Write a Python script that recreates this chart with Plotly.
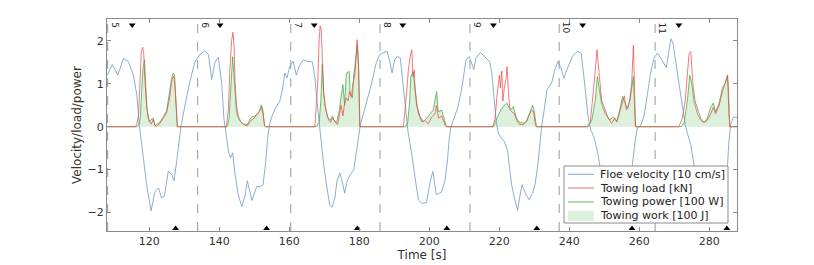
import plotly.graph_objects as go

# ---------------- data ----------------
vel_t = [108.0, 109.4, 111.0, 112.6, 114.0, 115.4, 116.4, 117.15, 118.3, 119.2, 120.5, 121.6, 122.6, 123.5,
         124.3, 125.4, 126.4, 127.05, 127.8, 128.5, 129.05, 130.2, 131.6, 133.05, 134.5, 135.9, 136.9, 137.8,
         138.8, 139.7, 140.7, 141.3, 141.8, 142.6, 143.2, 143.8, 144.5, 145.4, 146.4, 147.3, 148.0, 149.3,
         150.7, 151.6, 152.5, 153.25, 153.8, 154.4, 155.2, 156.1, 157.25, 158.0, 158.7, 159.35, 160.1, 161.1,
         162.0, 162.8, 163.9, 165.3, 166.6, 167.25, 167.9, 168.5, 169.2, 169.9, 170.8, 171.5, 172.2, 173.0,
         173.6, 174.4, 175.2, 175.8, 176.5, 177.4, 178.4, 179.2, 179.8, 180.3, 181.1, 182.2, 183.4, 184.7,
         185.8, 187.0, 187.9, 188.7, 189.35, 190.1, 190.9, 191.7, 192.5, 193.3, 193.9, 194.9, 195.4, 196.2,
         196.9, 197.8, 199.2, 200.1, 201.0, 202.0, 203.4, 204.5, 205.2, 205.7, 206.2, 207.2, 208.1, 209.1,
         209.8, 210.5, 211.4, 212.1, 212.7, 213.3, 214.6, 215.7, 217.2, 217.8, 218.6, 219.1, 219.7, 220.5,
         221.4, 222.4, 222.9, 223.5, 224.3, 225.2, 225.9, 226.5, 227.4, 228.5, 229.5, 230.2, 231.0, 231.6,
         232.1, 232.9, 233.6, 234.3, 235.1, 235.7, 236.7, 237.6, 238.4, 239.5, 241.0, 242.4, 243.4, 244.2,
         244.9, 245.4, 246.1, 247.1, 248.0, 248.7, 250.0, 251.5, 253.0, 254.5, 256.0, 257.2, 258.0, 258.8,
         259.4, 260.4, 261.3, 262.3, 263.2, 264.2, 265.2, 266.1, 267.1, 267.7, 268.3, 269.0, 269.6, 270.4,
         271.3, 272.3, 273.1, 273.7, 274.7, 275.6, 277.0, 278.5, 280.0, 281.5, 283.0, 284.5, 285.2, 285.6,
         286.1, 286.8, 288.0]
vel_v = [1.20, 1.45, 1.20, 1.59, 1.52, 1.21, 0.75, 0.01, -0.73, -1.35, -1.96, -1.51, -1.43, -1.66,
         -1.62, -1.04, -1.12, -1.26, -0.81, -0.26, 0.01, 0.51, 1.06, 1.52, 1.69, 1.77, 1.68, 1.10,
         1.52, 1.62, 0.98, 0.20, -0.11, -0.57, -0.73, -0.61, -1.12, -1.58, -1.86, -1.62, -1.26, -1.72,
         -1.39, -1.40, -1.35, -0.81, -0.26, 0.09, 0.28, 0.44, 0.59, 0.86, 1.25, 1.14, 1.41, 1.52,
         1.20, 1.41, 1.56, 1.52, 1.51, 1.17, 0.59, 0.05, -0.42, -0.96, -1.51, -1.82, -1.88, -1.66,
         -1.27, -1.08, -1.31, -1.55, -1.27, -1.12, -1.00, -0.57, -0.19, 0.05, 0.28, 0.59, 0.98, 1.45,
         1.68, 1.73, 1.76, 1.52, 1.25, 1.56, 1.64, 1.60, 0.98, 0.28, -0.11, -0.60, -0.85, -1.35,
         -1.71, -1.78, -1.77, -1.33, -1.04, -1.58, -1.53, -1.25, -0.75, -0.26, 0.01, 0.24, 0.44, 0.82,
         1.21, 1.56, 1.64, 1.45, 1.33, 1.60, 1.73, 1.64, 1.52, 1.29, 0.51, 0.13, -0.15, -0.26,
         -0.34, -0.57, -0.96, -1.35, -1.66, -1.95, -1.60, -1.35, -1.55, -1.70, -1.55, -1.35, -0.88, -0.30,
         0.01, 0.44, 0.86, 0.94, 1.06, 1.29, 1.52, 1.37, 1.13, 1.37, 1.66, 1.76, 1.70, 1.13,
         0.59, 0.20, -0.07, -0.26, -0.57, -0.88, -1.50, -1.85, -1.70, -1.60, -1.45, -1.30, -0.88, -0.34,
         -0.03, 0.03, 0.24, 0.75, 1.25, 1.60, 1.72, 1.60, 1.45, 1.38, 1.68, 2.05, 1.95, 1.52,
         0.98, 0.48, 0.05, -0.15, -0.42, -0.88, -1.50, -1.90, -1.80, -1.70, -1.60, -1.30, -0.88, -0.34,
         0.05, 0.22, 0.22]

load_t = [108.0, 116.0, 116.4, 116.9, 117.3, 117.7, 118.1, 118.4, 118.7, 119.2, 119.7, 120.5, 121.1, 121.6,
          122.1, 123.0, 124.0, 124.9, 125.8, 126.3, 126.8, 127.1, 127.4, 127.7, 128.0,
          142.0, 142.6, 143.0, 143.5, 143.9, 144.2, 144.5, 144.9, 145.4, 146.1, 147.0, 148.0, 148.8, 149.5,
          150.2, 150.8, 151.4, 152.1, 152.5, 152.9, 153.3,
          167.3, 167.7, 168.1, 168.5, 168.8, 169.1, 169.5, 169.8, 170.2, 170.7, 171.3, 171.8, 172.3, 172.7,
          173.2, 173.8, 174.3, 174.8, 175.3, 175.8, 176.3, 176.8, 177.2, 177.7, 178.2, 178.7, 179.0, 179.35,
          179.7, 180.0, 180.2,
          192.6, 193.1, 193.5, 194.0, 194.5, 195.0, 195.3, 195.7, 195.9, 196.4, 196.9, 197.8, 198.7, 199.7,
          200.7, 201.6, 202.1, 202.6, 203.5, 204.5, 205.0,
          218.1, 218.8, 219.3, 219.7, 220.0, 220.3, 220.7, 221.0, 221.4, 221.9, 222.2, 222.6, 223.0, 223.5,
          224.3, 225.0, 225.8, 226.8, 227.7, 228.6, 229.3, 229.8, 230.3, 230.6,
          245.0, 246.0, 246.9, 247.4, 247.9, 248.3, 248.6, 249.2, 250.2, 251.1, 252.1, 253.0, 253.6, 254.4,
          255.2, 255.7, 256.3, 256.8, 257.3, 257.8, 258.3, 258.6, 258.9,
          271.3, 272.3, 273.1, 273.7, 274.2, 274.7, 275.0, 275.3, 275.9, 276.6, 277.5, 278.5, 279.4, 280.4,
          281.1, 281.8, 282.8, 283.7, 284.5, 285.2, 285.5, 285.8, 288.0]
load_v = [0, 0, 0.05, 0.28, 0.98, 1.76, 1.85, 1.70, 1.13, 0.51, 0.20, 0.06, 0.17, 0.03,
          0.0, 0.08, 0.20, 0.32, 0.67, 1.02, 1.17, 1.16, 0.82, 0.20, 0.0,
          0.0, 0.40, 1.30, 2.00, 2.20, 1.90, 1.00, 0.50, 0.25, 0.12, 0.05, 0.02, 0.12, 0.18,
          0.22, 0.30, 0.35, 0.45, 0.30, 0.02, 0.0,
          0.0, 0.44, 1.00, 2.00, 2.35, 2.28, 1.50, 0.80, 0.50, 0.30, 0.15, 0.10, 0.20, 0.15,
          0.10, 0.05, 0.25, 0.50, 0.25, 0.55, 0.67, 0.60, 0.82, 0.70, 1.02, 1.20, 1.52, 2.03,
          1.60, 0.20, 0.0,
          0.0, 0.39, 0.78, 1.32, 1.63, 1.79, 1.17, 1.32, 0.93, 0.55, 0.30, 0.12, 0.14, 0.07,
          0.23, 0.30, 0.50, 0.20, 0.25, 0.04, 0.0,
          0.0, 0.20, 0.70, 1.00, 1.20, 0.90, 1.30, 0.60, 0.90, 1.10, 1.40, 0.80, 0.40, 0.35,
          0.30, 0.15, 0.05, 0.05, 0.12, 0.30, 0.38, 0.35, 0.05, 0.0,
          0.0, 0.10, 0.78, 1.30, 1.79, 1.50, 1.17, 0.62, 0.39, 0.20, 0.08, 0.20, 0.12, 0.35,
          0.59, 0.72, 0.40, 0.45, 0.65, 1.00, 1.90, 1.20, 0.0,
          0.0, 0.20, 0.60, 1.20, 1.70, 1.75, 1.30, 1.00, 0.60, 0.40, 0.20, 0.10, 0.15, 0.30,
          0.45, 0.30, 0.50, 0.80, 1.00, 1.20, 0.80, 0.0, 0.0]

power_t = [108.0, 116.4, 117.0, 117.4, 117.8, 118.2, 118.6, 118.9, 119.3, 119.9, 121.1, 121.6, 123.0, 124.0,
           124.9, 125.8, 126.3, 126.8, 127.2, 127.5, 127.8, 128.0,
           142.2, 142.8, 143.2, 143.5, 143.8, 144.1, 144.5, 144.9, 145.4, 146.2, 147.0, 148.0, 148.8, 149.3,
           150.2, 150.8, 151.3, 152.0, 152.4, 152.9, 153.2,
           167.6, 168.5, 169.0, 169.4, 169.8, 170.3, 171.0, 171.7, 172.3, 172.8, 173.5, 174.2, 174.6, 175.3,
           175.8, 176.3, 177.1, 177.4, 178.0, 178.4, 179.0, 179.4, 179.8, 180.1,
           193.2, 193.8, 194.3, 194.7, 195.4, 195.9, 196.4, 197.4, 198.3, 199.2, 200.2, 201.1, 202.1, 202.5,
           203.5, 204.4, 204.9,
           218.3, 219.3, 220.2, 221.1, 222.1, 222.8, 223.4, 224.0, 224.7, 225.4, 226.8, 227.8, 228.7, 229.5,
           229.9, 230.6,
           245.3, 246.4, 247.4, 248.0, 248.6, 249.2, 250.2, 251.6, 252.6, 253.5, 254.4, 255.2, 255.9, 256.5,
           257.3, 257.8, 258.3, 258.9,
           272.0, 272.8, 273.7, 274.4, 275.0, 275.6, 276.6, 277.5, 278.5, 279.4, 280.4, 281.1, 281.8, 282.8,
           283.7, 284.5, 285.2, 285.6, 285.9, 288.0]
power_v = [0, 0, 0.05, 0.20, 0.82, 1.37, 1.56, 1.13, 0.44, 0.12, 0.20, 0.03, 0.10, 0.24,
           0.36, 0.82, 1.10, 1.25, 1.21, 0.75, 0.05, 0.0,
           0.0, 0.20, 0.80, 1.40, 1.63, 1.30, 0.70, 0.35, 0.20, 0.10, 0.06, 0.05, 0.18, 0.23,
           0.25, 0.30, 0.33, 0.51, 0.40, 0.04, 0.0,
           0.0, 0.10, 0.60, 1.45, 0.80, 0.45, 0.20, 0.15, 0.25, 0.15, 0.10, 0.35, 0.59, 0.98,
           0.51, 1.25, 1.29, 0.75, 0.67, 1.21, 1.60, 1.91, 1.37, 0.0,
           0.0, 0.10, 0.50, 1.17, 1.28, 0.86, 0.47, 0.23, 0.12, 0.20, 0.30, 0.39, 0.82, 0.35,
           0.39, 0.16, 0.0,
           0.0, 0.20, 0.36, 0.47, 0.55, 0.45, 0.40, 0.47, 0.25, 0.12, 0.08, 0.12, 0.30, 0.50,
           0.40, 0.0,
           0.0, 0.15, 0.62, 1.17, 0.86, 0.55, 0.31, 0.16, 0.23, 0.12, 0.39, 0.70, 0.55, 0.43,
           0.62, 0.93, 1.17, 0.0,
           0.0, 0.10, 0.60, 1.20, 1.00, 0.60, 0.30, 0.15, 0.10, 0.20, 0.45, 0.55, 0.35, 0.55,
           0.90, 1.00, 1.20, 0.30, 0.0, 0.0]

# towing work is drawn as the area under the power trace
work_t = power_t
work_v = power_v

cycle_starts = [108.1, 133.8, 160.4, 185.9, 211.6, 237.1, 264.5]
cycle_labels = ["5", "6", "7", "8", "9", "10", "11"]
release_times = [115.1, 140.2, 167.1, 192.4, 218.3, 243.8, 271.3]
catch_times = [127.5, 153.5, 179.4, 205.0, 230.7, 257.9, 285.0]

x_ticks = [120, 140, 160, 180, 200, 220, 240, 260, 280]
y_ticks = [-2, -1, 0, 1, 2]

legend_names = ["Floe velocity [10 cm/s]", "Towing load [kN]", "Towing power [100 W]", "Towing work [100 J]"]

# ---------------- styles ----------------
FONT = "DejaVu Sans"
Y_RANGE = [-2.43, 2.51]
X_RANGE = [107.9, 287.9]
C_VEL = "rgba(110,155,200,0.9)"
C_LOAD = "rgba(238,70,70,0.8)"
C_POW = "rgba(70,170,70,0.85)"
C_WORK = "rgba(150,210,150,0.33)"
FRAME = "#8a8a8a"

fig = go.Figure()

fig.add_trace(go.Scatter(x=work_t, y=work_v, mode="lines", fill="tozeroy",
                         fillcolor=C_WORK, line=dict(width=0, color="rgba(0,0,0,0)"),
                         name=legend_names[3], showlegend=False))
fig.add_trace(go.Scatter(x=vel_t, y=vel_v, mode="lines", line=dict(color=C_VEL, width=0.9),
                         name=legend_names[0], showlegend=False))
fig.add_trace(go.Scatter(x=power_t, y=power_v, mode="lines", line=dict(color=C_POW, width=0.9),
                         name=legend_names[2], showlegend=False))
fig.add_trace(go.Scatter(x=load_t, y=load_v, mode="lines", line=dict(color=C_LOAD, width=0.9),
                         name=legend_names[1], showlegend=False))

# event markers
fig.add_trace(go.Scatter(x=release_times, y=[2.37] * len(release_times), mode="markers",
                         marker=dict(symbol="triangle-down", size=6, color="black"),
                         showlegend=False, hoverinfo="skip"))
fig.add_trace(go.Scatter(x=catch_times, y=[-2.37] * len(catch_times), mode="markers",
                         marker=dict(symbol="triangle-up", size=6, color="black"),
                         showlegend=False, hoverinfo="skip"))

for t, lab in zip(cycle_starts, cycle_labels):
    fig.add_shape(type="line", xref="x", yref="paper", x0=t, x1=t, y0=0, y1=1,
                  line=dict(color="rgba(120,120,120,0.75)", width=1, dash="dash"), layer="below")
    fig.add_annotation(x=t, y=1, xref="x", yref="paper", text=lab, textangle=90,
                       showarrow=False, xanchor="left", yanchor="top", xshift=0, yshift=-1,
                       font=dict(family=FONT, size=9, color="#222"))

# ---- legend box (drawn in paper coordinates) ----
LX0, LX1, LY0, LY1 = 0.7254, 0.9857, 0.0377, 0.3066
row_y = [0.2675, 0.2028, 0.1368, 0.0708]
sample_x0, sample_x1, text_x = 0.7317, 0.7730, 0.7794
fig.add_shape(type="rect", xref="paper", yref="paper", x0=LX0, x1=LX1, y0=LY0, y1=LY1,
              line=dict(color=FRAME, width=1), fillcolor="white", layer="above")
for yv, col in zip(row_y[:3], [C_VEL, C_LOAD, C_POW]):
    fig.add_shape(type="line", xref="paper", yref="paper", x0=sample_x0, x1=sample_x1, y0=yv, y1=yv,
                  line=dict(color=col, width=1), layer="above")
fig.add_shape(type="rect", xref="paper", yref="paper", x0=sample_x0, x1=sample_x1,
              y0=row_y[3] - 0.024, y1=row_y[3] + 0.024, line=dict(width=0),
              fillcolor="rgb(221,241,221)", layer="above")
for yv, name in zip(row_y, legend_names):
    fig.add_annotation(x=text_x, y=yv, xref="paper", yref="paper", text=name, showarrow=False,
                       xanchor="left", yanchor="middle", font=dict(family=FONT, size=11, color="#222"))

axis_common = dict(showgrid=False, zeroline=False, showline=True, linecolor=FRAME, linewidth=1,
                   mirror="ticks", ticks="inside", ticklen=4, tickcolor=FRAME, automargin=False,
                   tickfont=dict(family=FONT, size=11, color="#333"))

# the page body has an 8 px offset, so the margins are reduced by 8 px on the left and top
fig.update_layout(
    width=806, height=257,
    margin=dict(l=99, r=77, t=11, b=34),
    paper_bgcolor="white", plot_bgcolor="white",
    font=dict(family=FONT, color="#333"),
    xaxis=dict(range=X_RANGE, tickvals=x_ticks,
               title=dict(text="Time [s]", font=dict(family=FONT, size=12), standoff=3), **axis_common),
    yaxis=dict(range=Y_RANGE, tickvals=y_ticks,
               title=dict(text="Velocity/load/power", font=dict(family=FONT, size=12), standoff=3), **axis_common),
    showlegend=False,
)

fig.write_html("out.html")
